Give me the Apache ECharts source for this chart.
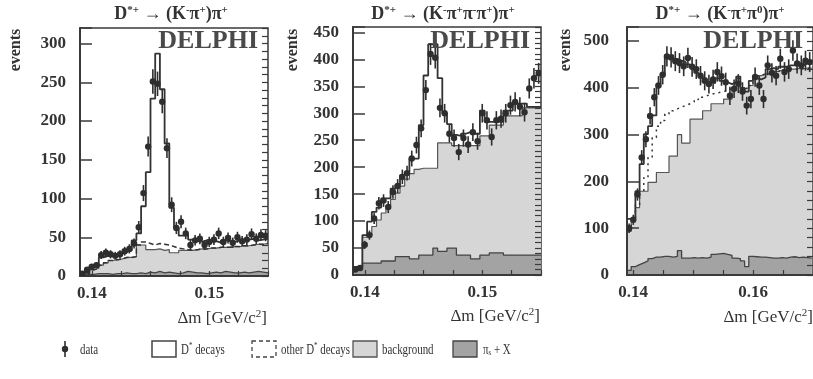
<!DOCTYPE html>
<html><head><meta charset="utf-8">
<script src="https://cdn.jsdelivr.net/npm/echarts@6/dist/echarts.min.js"></script>
<style>html,body{margin:0;padding:0;background:#fff}#c{width:813px;height:379px}</style>
</head><body><div id="c"></div>
<script>
// ---------------- data ----------------
const p1Start = 0.139, p1BinWidth = 0.0004;
const p1Data  = [3,8,12,14,27,30,28,26,28,32, 35,42,63,107,167,251,248,225,165,92, 62,70,55,40,46,48,40,44,47,55, 44,49,43,50,45,47,54,48,53,52];
const p1Total = [4,4,12,13,24,26,27,27,28,31, 33,46,55,90,134,229,287,241,171,88, 62,52,54,47,45,44,46,44,45,43, 46,45,44,46,45,47,48,46,47,48];
const p1Other = [2,3,8,10,14,17,20,21,22,24, 24,25,40,44,42,40,42,41,40,38, 36,35,34,33,34,35,35,36,36,37, 37,37,38,38,39,39,40,41,41,42];
const p1Bkg   = [2,3,8,10,14,17,20,21,22,24, 24,25,40,40,34,34,35,33,34,30, 30,33,33,33,34,35,35,36,36,37, 37,37,38,38,39,39,40,41,41,42];
const p1Pis   = [1,2,2,3,3,3,2,3,3,4, 3,3,4,3,5,4,6,4,5,4, 3,4,6,5,4,4,3,4,5,4, 6,5,4,4,5,4,5,6,5,4];

const p2Start = 0.139, p2BinWidth = 0.0004;
const p2Data  = [10,13,56,74,105,133,138,126,154,165, 182,189,216,241,272,343,410,403,310,300, 262,254,228,254,242,265,248,300,287,256, 287,290,300,315,321,312,302,346,365,374];
const p2Total = [15,15,74,99,117,125,142,142,160,167, 185,191,216,216,278,370,428,428,365,300, 280,260,258,262,265,262,262,305,284,284, 284,284,305,305,318,318,318,312,312,312];
const p2Bkg   = [13,13,70,75,90,102,115,128,140,152, 165,178,188,196,198,198,198,198,245,245, 245,240,240,240,240,240,240,258,258,278, 278,278,295,295,295,295,310,310,310,310];
const p2Pis   = [12,13,22,22,22,22,26,26,26,34, 34,34,30,30,37,37,37,50,44,44, 50,50,37,37,37,30,30,37,37,41, 41,41,37,37,37,37,37,37,37,37];

const p3Start = 0.139, p3BinWidth = 0.0007;
const p3Data  = [100,118,172,251,290,340,380,405,428,467, 465,457,453,446,464,445,440,426,415,408, 418,434,425,412,383,398,409,392,362,376, 423,405,376,448,432,426,462,434,440,480, 452,448,458,455];
const p3Total = [120,122,179,237,301,318,341,408,430,466, 470,462,458,455,450,445,432,426,420,412, 410,420,415,412,408,412,424,400,392,415, 420,418,422,440,442,440,445,445,448,448, 450,448,452,452];
const p3Other = [100,118,150,179,208,251,294,318,330,344, 351,355,359,362,366,370,375,380,383,386, 388,390,392,395,398,398,420,398,400,405, 426,426,430,430,435,435,438,438,440,440, 441,441,442,442];
const p3Bkg   = [93,118,144,179,179,198,198,219,219,219, 254,254,300,282,282,333,333,333,351,351, 366,366,366,376,376,398,420,398,400,405, 426,426,430,430,435,435,438,438,440,440, 441,441,442,442];
const p3Pis   = [10,18,22,26,30,35,38,38,40,40, 38,40,52,36,36,37,36,37,36,38, 44,45,46,44,42,36,35,30,18,40, 39,38,38,37,36,36,37,36,38,39, 37,38,37,36];

const xTicks12  = [0.14, 0.1425, 0.145, 0.1475, 0.15, 0.1525, 0.155];
const xLabels12 = [0.14, 0.15];
const xTicks3   = [0.14, 0.145, 0.15, 0.155, 0.16, 0.165, 0.17];
const xLabels3  = [0.14, 0.16];
const titles = [
  '{a|D}{s|*+}{a| → (K}{s|-}{a|π}{s|+}{a|)π}{s|+}',
  '{a|D}{s|*+}{a| → (K}{s|-}{a|π}{s|+}{a|π}{s|-}{a|π}{s|+}{a|)π}{s|+}',
  '{a|D}{s|*+}{a| → (K}{s|-}{a|π}{s|+}{a|π}{s|0}{a|)π}{s|+}'
];

// ---------------- helpers ----------------
function steps(vals, x0, w) {
  const out = vals.map((v, i) => [x0 + w * i, v]);
  out.push([x0 + w * vals.length, vals[vals.length - 1]]);
  return out;
}
function points(vals, x0, w) {
  return vals.map((v, i) => [x0 + w * (i + 0.5), v, Math.sqrt(v)]);
}
const FF = 'Liberation Serif';
const INK = '#333';

const panels = [
  {start: p1Start, w: p1BinWidth, data: p1Data, total: p1Total, other: p1Other, bkg: p1Bkg, pis: p1Pis,
   grid: {left: 80, top: 28, width: 188, height: 248}, xmin: 0.139, xmax: 0.155, ticks: xTicks12, labels: xLabels12,
   ymax: 320, yint: 50, yminor: 10, dash: [5, 3]},
  {start: p2Start, w: p2BinWidth, data: p2Data, total: p2Total, other: null, bkg: p2Bkg, pis: p2Pis,
   grid: {left: 353, top: 27, width: 188, height: 248}, xmin: 0.139, xmax: 0.155, ticks: xTicks12, labels: xLabels12,
   ymax: 460, yint: 50, yminor: 10, dash: [5, 3]},
  {start: p3Start, w: p3BinWidth, data: p3Data, total: p3Total, other: p3Other, bkg: p3Bkg, pis: p3Pis,
   grid: {left: 627, top: 27, width: 194, height: 248}, xmin: 0.139, xmax: 0.170, ticks: xTicks3, labels: xLabels3,
   ymax: 530, yint: 100, yminor: 20, dash: [2, 4]}
];

const grids = [], xAxes = [], yAxes = [], series = [];
panels.forEach((p, i) => {
  grids.push(Object.assign({show: true, borderColor: '#3a3a3a', borderWidth: 1.5, backgroundColor: 'transparent'}, p.grid));
  xAxes.push({
    gridIndex: i, type: 'value', min: p.xmin, max: p.xmax, z: 5,
    axisLine: {show: true, onZero: false, lineStyle: {color: '#3a3a3a', width: 2}},
    axisTick: {show: true, inside: true, length: 5, customValues: p.ticks, lineStyle: {color: '#3a3a3a', width: 1.2}},
    axisLabel: {customValues: p.labels, formatter: v => Number(v).toFixed(2), fontFamily: FF, fontWeight: 'bold', fontSize: 17, color: INK, margin: 9},
    splitLine: {show: false}
  });
  yAxes.push({
    gridIndex: i, type: 'value', min: 0, max: p.ymax, interval: p.yint, z: 5,
    axisLine: {show: true, lineStyle: {color: '#3a3a3a', width: 2}},
    axisTick: {show: true, inside: true, length: 12, lineStyle: {color: '#3a3a3a', width: 1.5}},
    axisLabel: {formatter: v => (v % p.yint === 0 ? String(v) : ''), fontFamily: FF, fontWeight: 'bold', fontSize: 17, color: INK, margin: i === 2 ? 18 : 14},
    splitLine: {show: false}
  });
  yAxes.push({
    gridIndex: i, type: 'value', min: 0, max: p.ymax, interval: p.yminor, z: 5,
    axisLine: {show: false},
    axisTick: {show: true, inside: true, length: 6, lineStyle: {color: '#3a3a3a', width: 1.2}},
    axisLabel: {show: false}, splitLine: {show: false}
  });
  const base = {xAxisIndex: i, yAxisIndex: 2 * i, symbol: 'none', silent: true, animation: false};
  series.push(Object.assign({}, base, {type: 'line', step: 'end', data: steps(p.bkg, p.start, p.w), z: 2,
    lineStyle: {color: '#555', width: 1.2}, areaStyle: {color: '#d6d6d6', opacity: 1}}));
  series.push(Object.assign({}, base, {type: 'line', step: 'end', data: steps(p.pis, p.start, p.w), z: 3,
    lineStyle: {color: '#444', width: 1.3}, areaStyle: {color: '#a3a3a3', opacity: 1}}));
  if (p.other) {
    series.push(Object.assign({}, base, {type: 'line', step: 'end', data: steps(p.other, p.start, p.w), z: 4,
      lineStyle: {color: '#333', width: 1.5, type: p.dash}}));
  }
  series.push(Object.assign({}, base, {type: 'line', step: 'end', data: steps(p.total, p.start, p.w), z: 5,
    lineStyle: {color: '#333', width: 1.8}}));
  series.push({type: 'custom', xAxisIndex: i, yAxisIndex: 2 * i, z: 6, silent: true, animation: false, clip: true,
    data: points(p.data, p.start, p.w), encode: {x: 0, y: 1},
    renderItem: (params, api) => {
      const x = api.value(0), y = api.value(1), e = api.value(2);
      const c = api.coord([x, y]), t = api.coord([x, y + e]), b = api.coord([x, Math.max(0, y - e)]);
      return {type: 'group', children: [
        {type: 'line', shape: {x1: c[0], y1: t[1], x2: c[0], y2: b[1]}, style: {stroke: '#2e2e2e', lineWidth: 1.6}},
        {type: 'circle', shape: {cx: c[0], cy: c[1], r: 3.2}, style: {fill: '#2e2e2e'}}
      ]};
    }});
});

// ---------------- texts ----------------
const supRich = {
  a: {fontFamily: FF, fontWeight: 'bold', fontSize: 18, lineHeight: 18, fill: INK, color: INK, verticalAlign: 'bottom'},
  s: {fontFamily: FF, fontWeight: 'bold', fontSize: 11, lineHeight: 11, fill: INK, color: INK, verticalAlign: 'top'}
};
const graphics = [];
const titleX = [171, 443, 720];
titles.forEach((t, i) => graphics.push({type: 'text', x: titleX[i], y: 14, z: 20,
  style: {text: t, rich: supRich, align: 'center', verticalAlign: 'middle', textAlign: 'center', textVerticalAlign: 'middle'}}));

const delphiX = [258, 530, 803];
delphiX.forEach(x => graphics.push({type: 'text', x: x, y: 41, z: 20,
  style: {text: 'DELPHI', font: 'bold 26px "Liberation Serif"', fill: '#4a4a4a', align: 'right', verticalAlign: 'middle', textAlign: 'right', textVerticalAlign: 'middle'}}));

const eventsX = [16, 293, 566];
eventsX.forEach(x => graphics.push({type: 'text', x: x, y: 50, rotation: Math.PI / 2, z: 20,
  style: {text: 'events', font: 'bold 16px "Liberation Serif"', fill: INK, align: 'center', verticalAlign: 'middle', textAlign: 'center', textVerticalAlign: 'middle'}}));

const nameRich = {
  n: {fontFamily: FF, fontSize: 17, lineHeight: 18, fill: INK, color: INK, verticalAlign: 'bottom'},
  s: {fontFamily: FF, fontSize: 11, lineHeight: 11, fill: INK, color: INK, verticalAlign: 'top'}
};
const nameX = [267, 540, 813], nameY = [318, 316, 317];
nameX.forEach((x, i) => graphics.push({type: 'text', x: x, y: nameY[i], z: 20,
  style: {text: '{n|Δm [GeV/c}{s|2}{n|]}', rich: nameRich, align: 'right', verticalAlign: 'middle', textAlign: 'right', textVerticalAlign: 'middle'}}));

// ---------------- legend ----------------
const legRich = {
  t: {fontFamily: FF, fontSize: 14, lineHeight: 16, fill: INK, color: INK, verticalAlign: 'bottom'},
  s: {fontFamily: FF, fontSize: 9, lineHeight: 9, fill: INK, color: INK, verticalAlign: 'top'},
  b: {fontFamily: FF, fontSize: 9, lineHeight: 9, fill: INK, color: INK, verticalAlign: 'bottom'}
};
const LY = 349;
graphics.push({type: 'line', shape: {x1: 65, y1: LY - 8, x2: 65, y2: LY + 8}, style: {stroke: '#2e2e2e', lineWidth: 1.6}});
graphics.push({type: 'circle', shape: {cx: 65, cy: LY, r: 3.2}, style: {fill: '#2e2e2e'}});
graphics.push({type: 'rect', shape: {x: 152, y: LY - 8, width: 24, height: 16}, style: {fill: '#fff', stroke: '#444', lineWidth: 1.5}});
graphics.push({type: 'rect', shape: {x: 252, y: LY - 8, width: 24, height: 16}, style: {fill: '#fff', stroke: '#444', lineWidth: 1.3, lineDash: [4, 3]}});
graphics.push({type: 'rect', shape: {x: 353, y: LY - 8, width: 24, height: 16}, style: {fill: '#d6d6d6', stroke: '#555', lineWidth: 1.3}});
graphics.push({type: 'rect', shape: {x: 453, y: LY - 8, width: 24, height: 16}, style: {fill: '#a3a3a3', stroke: '#444', lineWidth: 1.3}});
const legTexts = [
  [80, '{t|data}'], [181, '{t|D}{s|*}{t| decays}'], [281, '{t|other D}{s|*}{t| decays}'],
  [382, '{t|background}'], [483, '{t|π}{b|s}{t| + X}']
];
legTexts.forEach(([x, t]) => graphics.push({type: 'text', x: x, y: LY, z: 20, scaleX: 0.78, scaleY: 1,
  style: {text: t, rich: legRich, align: 'left', verticalAlign: 'middle', textAlign: 'left', textVerticalAlign: 'middle'}}));

const chart = echarts.init(document.getElementById('c'), null, {renderer: 'canvas'});
chart.setOption({
  animation: false,
  backgroundColor: '#fff',
  grid: grids, xAxis: xAxes, yAxis: yAxes, series: series, graphic: graphics
});
</script></body></html>
